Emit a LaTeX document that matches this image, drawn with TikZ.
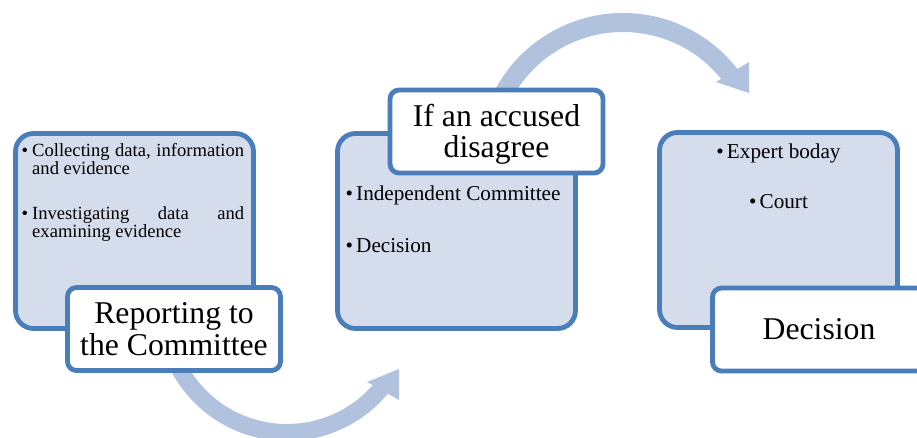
\documentclass[tikz,border=0pt]{standalone}
\usepackage{fontspec}
\setmainfont{Liberation Serif}
\definecolor{edgeblue}{HTML}{4A7EBB}
\definecolor{boxfill}{HTML}{D5DCEB}
\definecolor{arrowblue}{HTML}{B0C2DE}
\newcommand{\bulletmark}{\makebox[10.5pt][l]{\textbullet}}
\begin{document}
\begin{tikzpicture}[x=1pt,y=-1pt,
  bodybox/.style={draw=edgeblue, fill=boxfill, line width=4.8pt, rounded corners=18pt,
    minimum width=238pt, minimum height=195pt, inner sep=0pt},
  titlebox/.style={draw=edgeblue, fill=white, line width=4.8pt, rounded corners=9pt,
    minimum width=213pt, minimum height=83pt, inner sep=0pt, align=center,
    font=\fontsize{31.7}{31.5}\selectfont},
  bodytext/.style={inner sep=0pt, font=\fontsize{21.2}{21.2}\selectfont},
  smalltext/.style={inner sep=0pt, font=\fontsize{18.6}{18.3}\selectfont},
  arrowband/.style={fill=arrowblue}
]
\clip (0,0) rectangle (917,437);
% curved arrows
\fill[arrowband, shift={(287,310)}] (155:114) arc[start angle=155, end angle=41.2, radius=114]
  -- (80,72) -- (112,59) -- (112,90) -- (39.7:131) arc[start angle=39.7, end angle=155, radius=131] -- cycle;
\fill[arrowband, shift={(623,158)}] (205:145) arc[start angle=205, end angle=322.1, radius=145]
  -- (126,-96) -- (126,-65) -- (93,-76) -- (321.1:126) arc[start angle=321.1, end angle=205, radius=126] -- cycle;
% body boxes
\node[bodybox] (body1) at (134.5,231) {};
\node[bodybox] (body2) at (456.5,231) {};
\node[bodybox] (body3) at (778.5,230) {};
% body texts
\node[smalltext, anchor=base west, text width=222.5pt, align=justify] (text1) at (21.5,156) {%
\hangindent=10.5pt\hangafter=1\noindent\bulletmark Collecting data, information\linebreak and evidence\par
\vspace{26.7pt}%
\hangindent=10.5pt\hangafter=1\noindent\bulletmark Investigating data and\linebreak examining evidence\par};
\node[bodytext, anchor=base west] (text2a) at (345.5,200) {\bulletmark Independent Committee};
\node[bodytext, anchor=base west] (text2b) at (345.5,252) {\bulletmark Decision};
\node[bodytext, anchor=base] (text3a) at (778.5,158) {\bulletmark Expert boday};
\node[bodytext, anchor=base] (text3b) at (778.5,208) {\bulletmark Court};
% title boxes
\node[titlebox] (title1) at (174,329) {Reporting to\\the Committee};
\node[titlebox] (title2) at (496.5,131.5) {\rule{0pt}{28pt}If an accused\\disagree};
\node[titlebox] (title3) at (819,329.5) {Decision};
\end{tikzpicture}
\end{document}
